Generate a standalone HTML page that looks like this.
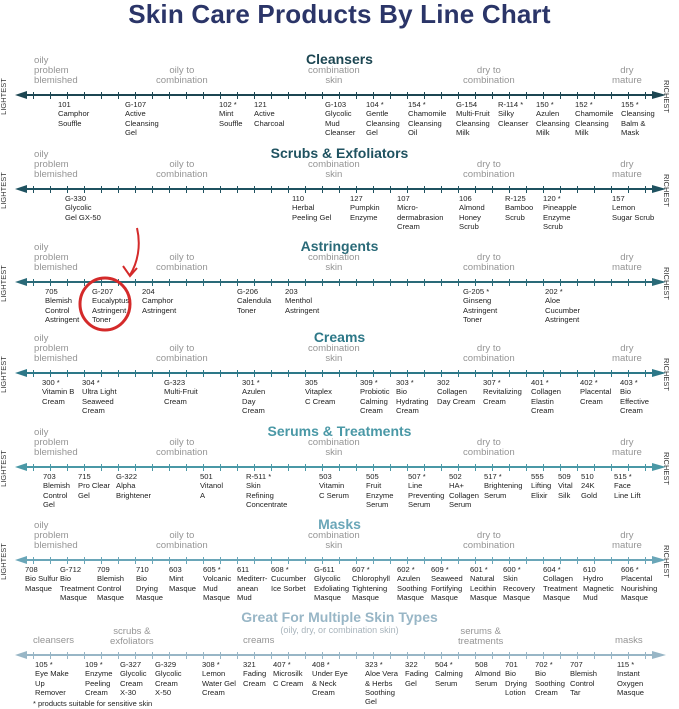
<!DOCTYPE html>
<html><head><meta charset="utf-8"><style>
*{margin:0;padding:0;box-sizing:border-box}
body{width:679px;height:709px;background:#fff;font-family:"Liberation Sans",sans-serif;position:relative;overflow:hidden}
h1{position:absolute;left:0;width:679px;top:-1px;text-align:center;font-size:26px;color:#2b3568;font-weight:bold;letter-spacing:0.2px}
.s{position:absolute;left:0;width:679px;height:0}
.t{position:absolute;left:0;width:679px;text-align:center;top:-44px;font-size:14px;font-weight:bold}
.c{position:absolute;font-size:9.6px;line-height:9.8px;color:#959595;text-align:center;white-space:nowrap}
.ax{position:absolute;left:20px;width:640px;top:-1px;height:2px}
.tk{position:absolute;left:33px;width:620px;top:-3px;height:7px}
.al{position:absolute;left:15px;top:-4px;width:0;height:0;border-top:4px solid transparent;border-bottom:4px solid transparent;border-right:12px solid}
.ar{position:absolute;left:652px;top:-4px;width:0;height:0;border-top:4px solid transparent;border-bottom:4px solid transparent;border-left:14px solid}
.lt,.rt{position:absolute;font-size:7.5px;color:#333;white-space:nowrap;top:-3px}
.lt{left:-15px;transform:rotate(-90deg)}
.rt{left:650px;transform:rotate(90deg)}
.p{position:absolute;top:5px;font-size:7.6px;line-height:9.3px;color:#222;white-space:nowrap}
</style></head><body>
<h1>Skin Care Products By Line Chart</h1>

<!-- Cleansers -->
<div class="s" style="top:95px">
<div class="t" style="color:#1c4652">Cleansers</div>
<div class="c" style="left:34px;top:-39px;text-align:left">oily<br>problem<br>blemished</div>
<div class="c" style="left:156px;top:-29px">oily to<br>combination</div>
<div class="c" style="left:308px;top:-29px">combination<br>skin</div>
<div class="c" style="left:463px;top:-29px">dry to<br>combination</div>
<div class="c" style="left:612px;top:-29px">dry<br>mature</div>
<div class="ax" style="background:#1c4652"></div><div class="tk" style="background:repeating-linear-gradient(90deg,#1c4652 0 1px,transparent 1px 17px)"></div>
<div class="al" style="border-right-color:#1c4652"></div><div class="ar" style="border-left-color:#1c4652"></div>
<div class="lt">LIGHTEST</div><div class="rt">RICHEST</div>
<div class="p" style="left:58px">101<br>Camphor<br>Souffle</div>
<div class="p" style="left:125px">G-107<br>Active<br>Cleansing<br>Gel</div>
<div class="p" style="left:219px">102 *<br>Mint<br>Souffle</div>
<div class="p" style="left:254px">121<br>Active<br>Charcoal</div>
<div class="p" style="left:325px">G-103<br>Glycolic<br>Mud<br>Cleanser</div>
<div class="p" style="left:366px">104 *<br>Gentle<br>Cleansing<br>Gel</div>
<div class="p" style="left:408px">154 *<br>Chamomile<br>Cleansing<br>Oil</div>
<div class="p" style="left:456px">G-154<br>Multi-Fruit<br>Cleansing<br>Milk</div>
<div class="p" style="left:498px">R-114 *<br>Silky<br>Cleanser</div>
<div class="p" style="left:536px">150 *<br>Azulen<br>Cleansing<br>Milk</div>
<div class="p" style="left:575px">152 *<br>Chamomile<br>Cleansing<br>Milk</div>
<div class="p" style="left:621px">155 *<br>Cleansing<br>Balm &amp;<br>Mask</div>
</div>

<!-- Scrubs -->
<div class="s" style="top:189px">
<div class="t" style="color:#1f5260">Scrubs &amp; Exfoliators</div>
<div class="c" style="left:34px;top:-39px;text-align:left">oily<br>problem<br>blemished</div>
<div class="c" style="left:156px;top:-29px">oily to<br>combination</div>
<div class="c" style="left:308px;top:-29px">combination<br>skin</div>
<div class="c" style="left:463px;top:-29px">dry to<br>combination</div>
<div class="c" style="left:612px;top:-29px">dry<br>mature</div>
<div class="ax" style="background:#1f5260"></div><div class="tk" style="background:repeating-linear-gradient(90deg,#1f5260 0 1px,transparent 1px 17px)"></div>
<div class="al" style="border-right-color:#1f5260"></div><div class="ar" style="border-left-color:#1f5260"></div>
<div class="lt">LIGHTEST</div><div class="rt">RICHEST</div>
<div class="p" style="left:65px">G-330<br>Glycolic<br>Gel GX-50</div>
<div class="p" style="left:292px">110<br>Herbal<br>Peeling Gel</div>
<div class="p" style="left:350px">127<br>Pumpkin<br>Enzyme</div>
<div class="p" style="left:397px">107<br>Micro-<br>dermabrasion<br>Cream</div>
<div class="p" style="left:459px">106<br>Almond<br>Honey<br>Scrub</div>
<div class="p" style="left:505px">R-125<br>Bamboo<br>Scrub</div>
<div class="p" style="left:543px">120 *<br>Pineapple<br>Enzyme<br>Scrub</div>
<div class="p" style="left:612px">157<br>Lemon<br>Sugar Scrub</div>
</div>

<!-- Astringents -->
<div class="s" style="top:282px">
<div class="t" style="color:#2a6a78">Astringents</div>
<div class="c" style="left:34px;top:-39px;text-align:left">oily<br>problem<br>blemished</div>
<div class="c" style="left:156px;top:-29px">oily to<br>combination</div>
<div class="c" style="left:308px;top:-29px">combination<br>skin</div>
<div class="c" style="left:463px;top:-29px">dry to<br>combination</div>
<div class="c" style="left:612px;top:-29px">dry<br>mature</div>
<div class="ax" style="background:#2a6a78"></div><div class="tk" style="background:repeating-linear-gradient(90deg,#2a6a78 0 1px,transparent 1px 17px)"></div>
<div class="al" style="border-right-color:#2a6a78"></div><div class="ar" style="border-left-color:#2a6a78"></div>
<div class="lt">LIGHTEST</div><div class="rt">RICHEST</div>
<div class="p" style="left:45px">705<br>Blemish<br>Control<br>Astringent</div>
<div class="p" style="left:92px">G-207<br>Eucalyptus<br>Astringent<br>Toner</div>
<div class="p" style="left:142px">204<br>Camphor<br>Astringent</div>
<div class="p" style="left:237px">G-206<br>Calendula<br>Toner</div>
<div class="p" style="left:285px">203<br>Menthol<br>Astringent</div>
<div class="p" style="left:463px">G-205 *<br>Ginseng<br>Astringent<br>Toner</div>
<div class="p" style="left:545px">202 *<br>Aloe<br>Cucumber<br>Astringent</div>
</div>
<svg style="position:absolute;left:0;top:0" width="679" height="709">
<ellipse cx="105" cy="304" rx="25" ry="26" fill="none" stroke="#d42a2a" stroke-width="3"/>
<path d="M137 228 C141 245 138 262 130 275" fill="none" stroke="#d42a2a" stroke-width="2"/>
<path d="M123 266 L130 276 L137 268" fill="none" stroke="#d42a2a" stroke-width="2"/>
</svg>

<!-- Creams -->
<div class="s" style="top:373px">
<div class="t" style="color:#2d7888">Creams</div>
<div class="c" style="left:34px;top:-39px;text-align:left">oily<br>problem<br>blemished</div>
<div class="c" style="left:156px;top:-29px">oily to<br>combination</div>
<div class="c" style="left:308px;top:-29px">combination<br>skin</div>
<div class="c" style="left:463px;top:-29px">dry to<br>combination</div>
<div class="c" style="left:612px;top:-29px">dry<br>mature</div>
<div class="ax" style="background:#2d7888"></div><div class="tk" style="background:repeating-linear-gradient(90deg,#2d7888 0 1px,transparent 1px 17px)"></div>
<div class="al" style="border-right-color:#2d7888"></div><div class="ar" style="border-left-color:#2d7888"></div>
<div class="lt">LIGHTEST</div><div class="rt">RICHEST</div>
<div class="p" style="left:42px">300 *<br>Vitamin B<br>Cream</div>
<div class="p" style="left:82px">304 *<br>Ultra Light<br>Seaweed<br>Cream</div>
<div class="p" style="left:164px">G-323<br>Multi-Fruit<br>Cream</div>
<div class="p" style="left:242px">301 *<br>Azulen<br>Day<br>Cream</div>
<div class="p" style="left:305px">305<br>Vitaplex<br>C Cream</div>
<div class="p" style="left:360px">309 *<br>Probiotic<br>Calming<br>Cream</div>
<div class="p" style="left:396px">303 *<br>Bio<br>Hydrating<br>Cream</div>
<div class="p" style="left:437px">302<br>Collagen<br>Day Cream</div>
<div class="p" style="left:483px">307 *<br>Revitalizing<br>Cream</div>
<div class="p" style="left:531px">401 *<br>Collagen<br>Elastin<br>Cream</div>
<div class="p" style="left:580px">402 *<br>Placental<br>Cream</div>
<div class="p" style="left:620px">403 *<br>Bio<br>Effective<br>Cream</div>
</div>

<!-- Serums -->
<div class="s" style="top:467px">
<div class="t" style="color:#4a98a6">Serums &amp; Treatments</div>
<div class="c" style="left:34px;top:-39px;text-align:left">oily<br>problem<br>blemished</div>
<div class="c" style="left:156px;top:-29px">oily to<br>combination</div>
<div class="c" style="left:308px;top:-29px">combination<br>skin</div>
<div class="c" style="left:463px;top:-29px">dry to<br>combination</div>
<div class="c" style="left:612px;top:-29px">dry<br>mature</div>
<div class="ax" style="background:#4a98a6"></div><div class="tk" style="background:repeating-linear-gradient(90deg,#4a98a6 0 1px,transparent 1px 17px)"></div>
<div class="al" style="border-right-color:#4a98a6"></div><div class="ar" style="border-left-color:#4a98a6"></div>
<div class="lt">LIGHTEST</div><div class="rt">RICHEST</div>
<div class="p" style="left:43px">703<br>Blemish<br>Control<br>Gel</div>
<div class="p" style="left:78px">715<br>Pro Clear<br>Gel</div>
<div class="p" style="left:116px">G-322<br>Alpha<br>Brightener</div>
<div class="p" style="left:200px">501<br>Vitanol<br>A</div>
<div class="p" style="left:246px">R-511 *<br>Skin<br>Refining<br>Concentrate</div>
<div class="p" style="left:319px">503<br>Vitamin<br>C Serum</div>
<div class="p" style="left:366px">505<br>Fruit<br>Enzyme<br>Serum</div>
<div class="p" style="left:408px">507 *<br>Line<br>Preventing<br>Serum</div>
<div class="p" style="left:449px">502<br>HA+<br>Collagen<br>Serum</div>
<div class="p" style="left:484px">517 *<br>Brightening<br>Serum</div>
<div class="p" style="left:531px">555<br>Lifting<br>Elixir</div>
<div class="p" style="left:558px">509<br>Vital<br>Silk</div>
<div class="p" style="left:581px">510<br>24K<br>Gold</div>
<div class="p" style="left:614px">515 *<br>Face<br>Line Lift</div>
</div>

<!-- Masks -->
<div class="s" style="top:560px">
<div class="t" style="color:#6aa6b8">Masks</div>
<div class="c" style="left:34px;top:-39px;text-align:left">oily<br>problem<br>blemished</div>
<div class="c" style="left:156px;top:-29px">oily to<br>combination</div>
<div class="c" style="left:308px;top:-29px">combination<br>skin</div>
<div class="c" style="left:463px;top:-29px">dry to<br>combination</div>
<div class="c" style="left:612px;top:-29px">dry<br>mature</div>
<div class="ax" style="background:#6aa6b8"></div><div class="tk" style="background:repeating-linear-gradient(90deg,#6aa6b8 0 1px,transparent 1px 17px)"></div>
<div class="al" style="border-right-color:#6aa6b8"></div><div class="ar" style="border-left-color:#6aa6b8"></div>
<div class="lt">LIGHTEST</div><div class="rt">RICHEST</div>
<div class="p" style="left:25px">708<br>Bio Sulfur<br>Masque</div>
<div class="p" style="left:60px">G-712<br>Bio<br>Treatment<br>Masque</div>
<div class="p" style="left:97px">709<br>Blemish<br>Control<br>Masque</div>
<div class="p" style="left:136px">710<br>Bio<br>Drying<br>Masque</div>
<div class="p" style="left:169px">603<br>Mint<br>Masque</div>
<div class="p" style="left:203px">605 *<br>Volcanic<br>Mud<br>Masque</div>
<div class="p" style="left:237px">611<br>Mediterr-<br>anean<br>Mud</div>
<div class="p" style="left:271px">608 *<br>Cucumber<br>Ice Sorbet</div>
<div class="p" style="left:314px">G-611<br>Glycolic<br>Exfoliating<br>Masque</div>
<div class="p" style="left:352px">607 *<br>Chlorophyll<br>Tightening<br>Masque</div>
<div class="p" style="left:397px">602 *<br>Azulen<br>Soothing<br>Masque</div>
<div class="p" style="left:431px">609 *<br>Seaweed<br>Fortifying<br>Masque</div>
<div class="p" style="left:470px">601 *<br>Natural<br>Lecithin<br>Masque</div>
<div class="p" style="left:503px">600 *<br>Skin<br>Recovery<br>Masque</div>
<div class="p" style="left:543px">604 *<br>Collagen<br>Treatment<br>Masque</div>
<div class="p" style="left:583px">610<br>Hydro<br>Magnetic<br>Mud</div>
<div class="p" style="left:621px">606 *<br>Placental<br>Nourishing<br>Masque</div>
</div>

<!-- Great for multiple -->
<div class="s" style="top:655px">
<div class="t" style="color:#98b6c6;top:-46px">Great For Multiple Skin Types</div>
<div class="c" style="left:0;width:679px;top:-29px;font-size:9px;color:#a8b4bc">(oily, dry, or combination skin)</div>
<div class="c" style="left:33px;top:-19px">cleansers</div>
<div class="c" style="left:110px;top:-28px">scrubs &amp;<br>exfoliators</div>
<div class="c" style="left:243px;top:-19px">creams</div>
<div class="c" style="left:458px;top:-28px">serums &amp;<br>treatments</div>
<div class="c" style="left:615px;top:-19px">masks</div>
<div class="ax" style="background:#98b6c6"></div><div class="tk" style="background:repeating-linear-gradient(90deg,#98b6c6 0 1px,transparent 1px 17px)"></div>
<div class="al" style="border-right-color:#98b6c6"></div><div class="ar" style="border-left-color:#98b6c6"></div>
<div class="p" style="left:35px">105 *<br>Eye Make<br>Up<br>Remover</div>
<div class="p" style="left:85px">109 *<br>Enzyme<br>Peeling<br>Cream</div>
<div class="p" style="left:120px">G-327<br>Glycolic<br>Cream<br>X-30</div>
<div class="p" style="left:155px">G-329<br>Glycolic<br>Cream<br>X-50</div>
<div class="p" style="left:202px">308 *<br>Lemon<br>Water Gel<br>Cream</div>
<div class="p" style="left:243px">321<br>Fading<br>Cream</div>
<div class="p" style="left:273px">407 *<br>Microsilk<br>C Cream</div>
<div class="p" style="left:312px">408 *<br>Under Eye<br>&amp; Neck<br>Cream</div>
<div class="p" style="left:365px">323 *<br>Aloe Vera<br>&amp; Herbs<br>Soothing<br>Gel</div>
<div class="p" style="left:405px">322<br>Fading<br>Gel</div>
<div class="p" style="left:435px">504 *<br>Calming<br>Serum</div>
<div class="p" style="left:475px">508<br>Almond<br>Serum</div>
<div class="p" style="left:505px">701<br>Bio<br>Drying<br>Lotion</div>
<div class="p" style="left:535px">702 *<br>Bio<br>Soothing<br>Cream</div>
<div class="p" style="left:570px">707<br>Blemish<br>Control<br>Tar</div>
<div class="p" style="left:617px">115 *<br>Instant<br>Oxygen<br>Masque</div>
</div>
<div style="position:absolute;left:33px;top:699px;font-size:7.5px;color:#222">* products suitable for sensitive skin</div>
</body></html>
